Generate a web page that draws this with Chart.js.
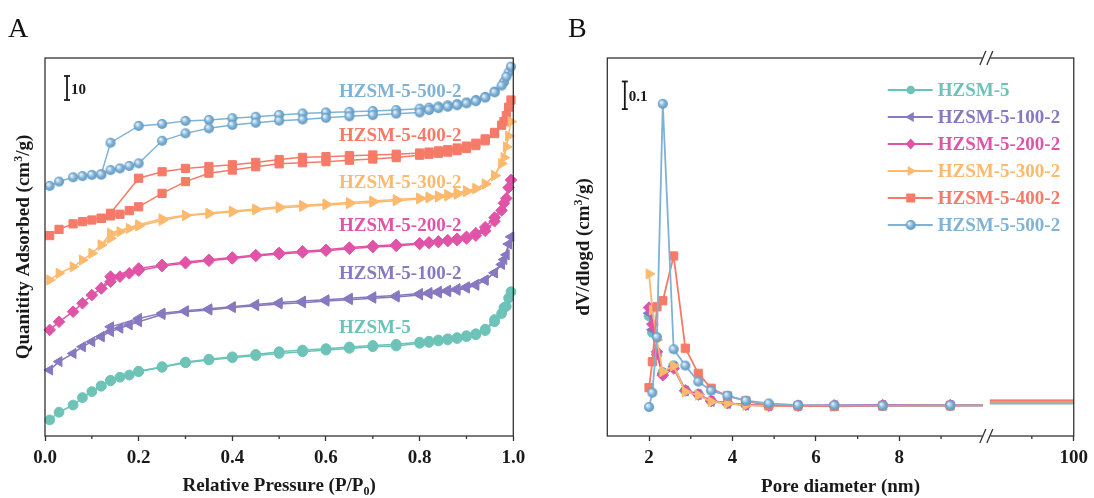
<!DOCTYPE html>
<html>
<head>
<meta charset="utf-8">
<script src="https://cdn.jsdelivr.net/npm/chart.js@4.4.0/dist/chart.umd.min.js"></script>
<style>
    html, body { margin: 0; padding: 0; background: #fff; }
    #wrap { position: relative; width: 1094px; height: 498px; }
    canvas { position: absolute; top: 0; }
    #chartA { left: 0; }
    #chartB { left: 547px; }
</style>
</head>
<body>
<div id="wrap">
    <canvas id="chartA" width="547" height="498"></canvas>
    <canvas id="chartB" width="547" height="498"></canvas>
</div>
<script>
// sample names, colours and symbols (same order in both panels)
const names = ['HZSM-5', 'HZSM-5-100-2', 'HZSM-5-200-2', 'HZSM-5-300-2', 'HZSM-5-400-2', 'HZSM-5-500-2'];
const colors = ['#6dc3b7', '#8778c0', '#e054a8', '#fdb96e', '#f67a68', '#7eb2d6'];
const markers = ['circle', 'triLeft', 'diamond', 'triRight', 'square', 'sphere'];

// panel A: isotherms (offset for display), relative pressure grids
const pAds = [0.01, 0.03, 0.06, 0.08, 0.10, 0.12, 0.14, 0.16, 0.18, 0.20, 0.25, 0.30, 0.35, 0.40, 0.45, 0.50, 0.55, 0.60, 0.65, 0.70, 0.75, 0.80, 0.82, 0.84, 0.86, 0.88, 0.90, 0.92, 0.94, 0.96, 0.975, 0.985, 0.995];
const pDes = [0.99, 0.98, 0.96, 0.94, 0.92, 0.90, 0.88, 0.86, 0.84, 0.82, 0.80, 0.75, 0.70, 0.65, 0.60, 0.55, 0.50, 0.45, 0.40, 0.35, 0.30, 0.25, 0.20, 0.14, 0.12];

const adsHZ = [6.7, 9.9, 12.9, 16.0, 18.5, 20.8, 23.0, 24.5, 25.4, 26.8, 28.6, 30.5, 31.7, 32.6, 33.5, 34.4, 35.1, 35.8, 36.5, 37.2, 37.5, 38.6, 39.0, 39.6, 40.1, 40.6, 41.4, 42.2, 43.9, 47.6, 51.0, 54.0, 60.1];
const desHZ = [57.5, 53.5, 48.5, 44.5, 42.6, 41.8, 41.0, 40.5, 40.0, 39.5, 39.1, 38.2, 37.7, 37.1, 36.4, 35.8, 35.1, 34.0, 33.0, 32.0, 30.8, 28.9, 27.0, 23.2, 20.8];
const ads100 = [27.5, 31.0, 34.4, 37.2, 39.3, 41.4, 43.5, 44.9, 46.3, 47.6, 50.6, 51.8, 52.5, 53.5, 54.3, 55.0, 55.5, 56.2, 56.8, 57.4, 57.9, 58.8, 59.2, 59.6, 60.1, 60.7, 61.6, 62.8, 64.9, 68.0, 71.5, 75.5, 83.0];
const des100 = [80.0, 73.5, 68.0, 65.0, 63.2, 62.2, 61.4, 60.8, 60.3, 59.8, 59.4, 58.5, 58.0, 57.4, 56.8, 56.2, 55.6, 54.8, 53.9, 53.0, 52.2, 51.2, 49.0, 45.5, 41.4];
const ads200 = [44.2, 47.6, 51.8, 55.3, 58.7, 61.5, 64.3, 66.4, 67.8, 68.9, 70.8, 72.0, 73.0, 74.0, 75.0, 75.8, 76.5, 77.2, 78.0, 78.7, 79.2, 80.0, 80.4, 80.8, 81.2, 81.6, 82.3, 83.5, 85.5, 89.5, 94.0, 99.0, 106.7];
const des200 = [103.5, 97.0, 91.0, 87.0, 84.5, 83.0, 82.2, 81.6, 81.1, 80.7, 80.3, 79.7, 79.2, 78.5, 77.6, 77.0, 76.3, 75.4, 74.4, 73.4, 72.5, 71.3, 69.8, 66.4, 61.5];
const ads300 = [65.0, 67.8, 70.5, 73.3, 76.1, 79.6, 82.4, 85.1, 86.5, 87.5, 89.8, 91.8, 92.6, 93.3, 94.2, 95.0, 95.6, 96.3, 96.8, 97.4, 98.0, 98.8, 99.2, 99.6, 100.0, 100.7, 101.8, 103.0, 105.0, 108.5, 113.5, 120.5, 131.0];
const des300 = [125.0, 116.0, 108.5, 105.0, 103.2, 102.2, 101.3, 100.6, 100.1, 99.6, 99.2, 98.5, 97.9, 97.3, 96.7, 96.1, 95.5, 94.6, 93.7, 92.9, 92.0, 90.5, 88.0, 84.5, 79.6];
const ads400 = [83.5, 86.1, 88.4, 89.3, 90.0, 90.7, 91.7, 92.4, 93.9, 95.5, 101.1, 106.0, 109.5, 110.8, 112.2, 113.4, 113.9, 114.3, 114.9, 115.4, 116.0, 117.0, 117.4, 117.8, 118.3, 118.9, 119.8, 121.0, 123.0, 126.0, 129.5, 133.5, 140.0];
const des400 = [137.0, 131.0, 126.5, 123.8, 122.0, 120.8, 120.0, 119.3, 118.8, 118.3, 117.9, 117.4, 117.1, 116.8, 116.4, 116.1, 115.2, 114.0, 113.0, 112.3, 111.5, 110.1, 107.4, 92.8, 90.7];
const ads500 = [104.2, 106.0, 107.8, 108.3, 108.8, 109.0, 110.8, 111.5, 112.5, 113.6, 123.0, 126.1, 128.2, 129.6, 130.5, 131.4, 131.9, 132.6, 133.2, 133.7, 134.3, 134.8, 135.8, 136.6, 137.2, 137.8, 138.6, 139.5, 141.0, 143.2, 146.0, 149.7, 153.9];
const des500 = [151.5, 147.5, 143.5, 141.3, 140.0, 139.0, 138.3, 137.8, 137.3, 136.8, 136.4, 135.8, 135.4, 135.1, 134.8, 134.4, 133.8, 133.0, 132.4, 131.7, 131.3, 130.0, 129.2, 122.2, 109.0];

const adsAll = [adsHZ, ads100, ads200, ads300, ads400, ads500];
const desAll = [desHZ, des100, des200, des300, des400, des500];
const labelAY = [44.8, 67.5, 87.3, 105.4, 124.8, 143.5];
const xTicksA = [0, 0.2, 0.4, 0.6, 0.8, 1.0];
const minorA = [0.1, 0.3, 0.5, 0.7, 0.9];

// panel B: pore size distribution
const poreX = [2.0, 2.08, 2.19, 2.33, 2.59, 2.87, 3.18, 3.49, 3.88, 4.32, 4.87, 5.57, 6.44, 7.6, 9.22, 10.0];
const poreHZ = [0.33, 0.27, 0.19, 0.125, 0.15, 0.06, 0.047, 0.022, 0.014, 0.008, 0.006, 0.005, 0.005, 0.006, 0.006, 0.006];
const pore100 = [0.34, 0.28, 0.19, 0.12, 0.145, 0.058, 0.045, 0.02, 0.013, 0.007, 0.005, 0.005, 0.005, 0.006, 0.006, 0.006];
const pore200 = [0.36, 0.30, 0.20, 0.115, 0.14, 0.06, 0.045, 0.022, 0.014, 0.008, 0.005, 0.005, 0.006, 0.007, 0.007, 0.007];
const pore300 = [0.482, 0.351, 0.243, 0.128, 0.149, 0.055, 0.043, 0.019, 0.013, 0.006, 0.004, 0.004, 0.003, 0.004, 0.005, 0.006];
const pore400 = [0.070, 0.164, 0.363, 0.385, 0.547, 0.213, 0.122, 0.068, 0.040, 0.022, 0.005, 0.004, 0.002, 0.004, 0.005, 0.006];
const pore500 = [0.0, 0.052, 0.253, 1.098, 0.209, 0.150, 0.092, 0.059, 0.041, 0.023, 0.013, 0.007, 0.006, 0.005, 0.006, 0.006];
const markedPores = 15; // points after this are plain line
// after the axis break (20 - 100 nm)
const poreTail = [20, 60, 100];
const tailVal = [0.016, 0.015, 0.024, 0.019, 0.022, 0.012];
const poreAll = [poreHZ, pore100, pore200, pore300, pore400, pore500];

const xTicksB = [2, 4, 6, 8, 100];
const minorB = [3, 5, 7, 9, 60];

// broken x axis: 1-10 nm linear, then 20-100 nm squeezed after the break
const breakEnd = 10, tailStart = 10.17, tailEnd = 12.18;
const axisB = d => d <= breakEnd ? d : tailStart + (d - poreTail[0]) / (100 - poreTail[0]) * (tailEnd - tailStart);

const serif = '"Liberation Serif", "Times New Roman", serif';
const ink = '#1a1a1a';

// origin style sphere symbol
function sphere(color, r) {
    const c = document.createElement('canvas');
    c.width = c.height = r * 2 + 2;
    const g = c.getContext('2d');
    const m = r + 1;
    const grad = g.createRadialGradient(m - r * 0.35, m - r * 0.35, r * 0.1, m, m, r);
    grad.addColorStop(0, '#eaf3fa');
    grad.addColorStop(0.55, color);
    grad.addColorStop(1, '#5f95c0');
    g.fillStyle = grad;
    g.beginPath();
    g.arc(m, m, r, 0, Math.PI * 2);
    g.fill();
    return c;
}
const sphereImg = sphere(colors[5], 5);

function pointOpts(i) {
    const m = markers[i];
    if (m === 'circle') return { pointStyle: 'circle', r: 4.9, rot: 0 };
    if (m === 'triLeft') return { pointStyle: 'triangle', r: 5.8, rot: 270 };
    if (m === 'diamond') return { pointStyle: 'rectRot', r: 5.8, rot: 0 };
    if (m === 'triRight') return { pointStyle: 'triangle', r: 5.8, rot: 90 };
    if (m === 'square') return { pointStyle: 'rect', r: 5.8, rot: 0 };
    return { pointStyle: sphereImg, r: 5, rot: 0 };
}

// legend symbol, drawn by hand
function drawMarker(ctx, i, x, y) {
    const m = markers[i];
    ctx.save();
    ctx.fillStyle = colors[i];
    ctx.beginPath();
    if (m === 'circle') {
        ctx.arc(x, y, 4.3, 0, Math.PI * 2);
    } else if (m === 'triLeft') {
        ctx.moveTo(x - 5.5, y); ctx.lineTo(x + 3, y - 5); ctx.lineTo(x + 3, y + 5);
    } else if (m === 'triRight') {
        ctx.moveTo(x + 5.5, y); ctx.lineTo(x - 3, y - 5); ctx.lineTo(x - 3, y + 5);
    } else if (m === 'diamond') {
        ctx.moveTo(x, y - 5.5); ctx.lineTo(x + 5, y); ctx.lineTo(x, y + 5.5); ctx.lineTo(x - 5, y);
    } else if (m === 'square') {
        ctx.rect(x - 4.5, y - 4.5, 9, 9);
    } else {
        ctx.drawImage(sphereImg, x - sphereImg.width / 2, y - sphereImg.height / 2);
    }
    ctx.closePath();
    ctx.fill();
    ctx.restore();
}

// text with a raised/lowered part (cm3, P0)
function richText(ctx, parts, cx, cy, size, angle) {
    ctx.save();
    ctx.translate(cx, cy);
    if (angle) ctx.rotate(angle);
    const small = Math.round(size * 0.62);
    let w = 0;
    parts.forEach(p => {
        ctx.font = 'bold ' + (p.s ? small : size) + 'px ' + serif;
        p.w = ctx.measureText(p.t).width;
        w += p.w;
    });
    let x = -w / 2;
    ctx.textAlign = 'left';
    ctx.textBaseline = 'alphabetic';
    ctx.fillStyle = ink;
    parts.forEach(p => {
        ctx.font = 'bold ' + (p.s ? small : size) + 'px ' + serif;
        const dy = p.s === 'sup' ? -size * 0.36 : p.s === 'sub' ? size * 0.2 : 0;
        ctx.fillText(p.t, x, size * 0.33 + dy);
        x += p.w;
    });
    ctx.restore();
}

function line(ctx, x1, y1, x2, y2) {
    ctx.beginPath();
    ctx.moveTo(x1, y1);
    ctx.lineTo(x2, y2);
    ctx.stroke();
}

function scaleBar(ctx, x, y1, y2, text) {
    ctx.strokeStyle = ink;
    ctx.lineWidth = 1.8;
    line(ctx, x, y1, x, y2);
    line(ctx, x - 3, y1, x + 3, y1);
    line(ctx, x - 3, y2, x + 3, y2);
    ctx.fillStyle = ink;
    ctx.font = 'bold 15px ' + serif;
    ctx.textAlign = 'left';
    ctx.textBaseline = 'middle';
    ctx.fillText(text, x + 4, (y1 + y2) / 2 + 2);
}

function frame(chart) {
    const ctx = chart.ctx, a = chart.chartArea;
    ctx.strokeStyle = '#333';
    ctx.lineWidth = 1.3;
    ctx.strokeRect(a.left, a.top, a.right - a.left, a.bottom - a.top);
}

function minorTicks(chart, list) {
    const ctx = chart.ctx, a = chart.chartArea, xs = chart.scales.x;
    ctx.strokeStyle = '#333';
    ctx.lineWidth = 1.3;
    list.forEach(v => {
        const px = xs.getPixelForValue(v);
        line(ctx, px, a.bottom, px, a.bottom + 3);
    });
}

function panelLetter(ctx, text, x) {
    ctx.fillStyle = '#111';
    ctx.font = '28px ' + serif;
    ctx.textAlign = 'left';
    ctx.textBaseline = 'alphabetic';
    ctx.fillText(text, x, 37);
}

const panelAPlugin = {
    id: 'panelA',
    afterDraw(chart) {
        const ctx = chart.ctx, a = chart.chartArea, xs = chart.scales.x, ys = chart.scales.y;
        ctx.save();
        frame(chart);
        minorTicks(chart, minorA);
        scaleBar(ctx, xs.getPixelForValue(0.047), ys.getPixelForValue(150), ys.getPixelForValue(140), '10');

        // sample labels next to each curve
        ctx.font = 'bold 19px ' + serif;
        ctx.textAlign = 'left';
        ctx.textBaseline = 'middle';
        names.forEach((n, i) => {
            ctx.fillStyle = colors[i];
            ctx.fillText(n, xs.getPixelForValue(0.628), ys.getPixelForValue(labelAY[i]));
        });

        richText(ctx, [{ t: 'Relative Pressure (P/P' }, { t: '0', s: 'sub' }, { t: ')' }], (a.left + a.right) / 2, 485, 19, 0);
        richText(ctx, [{ t: 'Quanitity Adsorbed (cm' }, { t: '3', s: 'sup' }, { t: '/g)' }], 23, (a.top + a.bottom) / 2, 19, -Math.PI / 2);
        panelLetter(ctx, 'A', 8);
        ctx.restore();
    }
};

const panelBPlugin = {
    id: 'panelB',
    afterDraw(chart) {
        const ctx = chart.ctx, a = chart.chartArea, xs = chart.scales.x, ys = chart.scales.y;
        ctx.save();
        frame(chart);
        minorTicks(chart, minorB.map(axisB));

        // axis break marks, top and bottom
        const bx = xs.getPixelForValue((breakEnd + tailStart) / 2);
        [a.top, a.bottom].forEach(y => {
            ctx.fillStyle = '#fff';
            ctx.fillRect(bx - 4, y - 2, 8, 4);
            ctx.strokeStyle = '#333';
            ctx.lineWidth = 1.3;
            line(ctx, bx - 6.5, y + 7, bx - 0.5, y - 7);
            line(ctx, bx + 0.5, y + 7, bx + 6.5, y - 7);
        });

        scaleBar(ctx, xs.getPixelForValue(1.42), ys.getPixelForValue(1.179), ys.getPixelForValue(1.079), '0.1');

        // legend
        names.forEach((n, i) => {
            const y = a.top + 32 + i * 27;
            ctx.strokeStyle = colors[i];
            ctx.lineWidth = 1.8;
            line(ctx, a.right - 186, y, a.right - 141, y);
            drawMarker(ctx, i, a.right - 163, y);
            ctx.fillStyle = colors[i];
            ctx.font = 'bold 19px ' + serif;
            ctx.textAlign = 'left';
            ctx.textBaseline = 'middle';
            ctx.fillText(n, a.right - 136, y + 1);
        });

        richText(ctx, [{ t: 'Pore diameter (nm)' }], (a.left + a.right) / 2, 486, 19, 0);
        richText(ctx, [{ t: 'dV/dlogd (cm' }, { t: '3', s: 'sup' }, { t: '/g)' }], 36, (a.top + a.bottom) / 2, 19, -Math.PI / 2);
        panelLetter(ctx, 'B', 21);
        ctx.restore();
    }
};

const tickFont = { family: serif, weight: 'bold', size: 19 };

// ---- panel A datasets (adsorption + desorption branch per sample)
const datasetsA = [];
names.forEach((n, i) => {
    const po = pointOpts(i);
    const style = {
        borderColor: colors[i], backgroundColor: colors[i],
        pointBackgroundColor: colors[i], pointBorderColor: colors[i],
        pointStyle: po.pointStyle, pointRadius: po.r, pointRotation: po.rot, pointBorderWidth: 1,
        borderWidth: 1.5, tension: 0, clip: false
    };
    datasetsA.push(Object.assign({ label: n + ' ads', data: pAds.map((p, k) => ({ x: p, y: adsAll[i][k] })) }, style));
    datasetsA.push(Object.assign({ label: n + ' des', data: pDes.map((p, k) => ({ x: p, y: desAll[i][k] })) }, style));
});

new Chart(document.getElementById('chartA'), {
    type: 'line',
    data: { datasets: datasetsA },
    options: {
        responsive: false, animation: false, events: [], devicePixelRatio: 1,
        layout: { padding: { left: 45, right: 33.7, top: 58, bottom: 0 } },
        plugins: { legend: { display: false }, tooltip: { enabled: false } },
        scales: {
            x: {
                type: 'linear', min: 0, max: 1,
                afterFit: s => { s.height = 62; },
                afterBuildTicks: s => { s.ticks = xTicksA.map(v => ({ value: v })); },
                border: { display: false },
                grid: { drawOnChartArea: false, drawTicks: true, tickLength: 5, tickColor: '#333', tickWidth: 1.3 },
                ticks: { padding: 6, color: ink, font: tickFont, maxRotation: 0, autoSkip: false, callback: v => v.toFixed(1) }
            },
            y: { type: 'linear', display: false, min: 0, max: 157.5 }
        }
    },
    plugins: [panelAPlugin]
});

// ---- panel B datasets (line continues past the break without symbols)
const datasetsB = names.map((n, i) => {
    const po = pointOpts(i);
    const pts = poreX.map((d, k) => ({ x: axisB(d), y: poreAll[i][k], m: k < markedPores }));
    pts.push({ x: (breakEnd + tailStart) / 2, y: null, m: false });
    poreTail.forEach(d => pts.push({ x: axisB(d), y: tailVal[i], m: false }));
    return {
        label: n, data: pts, order: 5 - i,
        borderColor: colors[i], backgroundColor: colors[i],
        pointBackgroundColor: colors[i], pointBorderColor: colors[i],
        pointStyle: po.pointStyle, pointRotation: po.rot, pointBorderWidth: 1,
        pointRadius: c => (c.raw && c.raw.m ? po.r : 0),
        borderWidth: 1.8, tension: 0, spanGaps: false, clip: false
    };
});

new Chart(document.getElementById('chartB'), {
    type: 'line',
    data: { datasets: datasetsB },
    options: {
        responsive: false, animation: false, events: [], devicePixelRatio: 1,
        layout: { padding: { left: 60.3, right: 17.3, top: 58, bottom: 0 } },
        plugins: { legend: { display: false }, tooltip: { enabled: false } },
        scales: {
            x: {
                type: 'linear', min: 1, max: tailEnd,
                afterFit: s => { s.height = 62; },
                afterBuildTicks: s => { s.ticks = xTicksB.map(v => ({ value: axisB(v) })); },
                border: { display: false },
                grid: { drawOnChartArea: false, drawTicks: true, tickLength: 5, tickColor: '#333', tickWidth: 1.3 },
                ticks: { padding: 6, color: ink, font: tickFont, maxRotation: 0, autoSkip: false,
                    callback: v => (v > breakEnd ? '100' : String(v)) }
            },
            y: { type: 'linear', display: false, min: -0.105, max: 1.264 }
        }
    },
    plugins: [panelBPlugin]
});
</script>
</body>
</html>
